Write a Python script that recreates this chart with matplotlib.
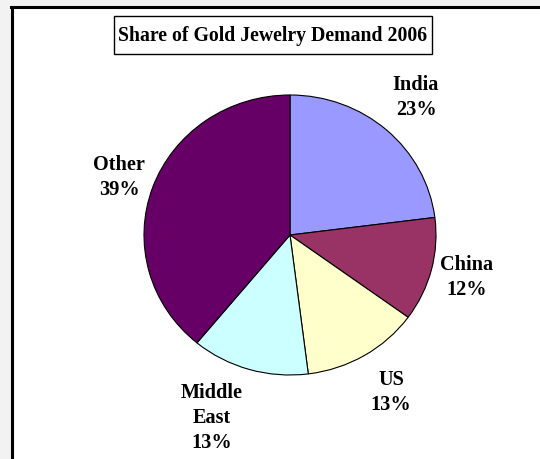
import matplotlib
matplotlib.use("Agg")
import matplotlib.pyplot as plt
from matplotlib.patches import Rectangle
from matplotlib.lines import Line2D

regions = ["India", "China", "US", "Middle\nEast", "Other"]
shares = [23, 12, 13, 13, 39]
colors = ["#9999FF", "#993366", "#FFFFCC", "#CCFFFF", "#660066"]
title = "Share of Gold Jewelry Demand 2006"

W, H = 540, 459
fig = plt.figure(figsize=(W / 100, H / 100), dpi=100)
fig.patch.set_facecolor("white")
plt.rcParams["font.family"] = ["Liberation Serif", "DejaVu Serif"]

def fx(x):
    return x / W

def fy(y):
    return 1 - y / H

# outer grey margin and frame
fig.patches.append(Rectangle((0, 0), fx(11), 1, transform=fig.transFigure,
                             facecolor="#f2f2f2", edgecolor="none", zorder=0))
fig.patches.append(Rectangle((0, fy(6)), 1, 6 / H, transform=fig.transFigure,
                             facecolor="#f2f2f2", edgecolor="none", zorder=0))
fig.lines.append(Line2D([fx(12), fx(12)], [0, fy(7)], transform=fig.transFigure,
                        color="black", lw=2.2))
fig.lines.append(Line2D([fx(11), 1], [fy(7), fy(7)], transform=fig.transFigure,
                        color="black", lw=2.2))

# pie axes (slightly elliptical, as in reference)
left, right, top, bottom = 144, 436, 95, 375
ax = fig.add_axes([fx(left), fy(bottom), (right - left) / W, (bottom - top) / H])
ax.pie(shares, colors=colors, startangle=90, counterclock=False,
       wedgeprops=dict(edgecolor="black", linewidth=0.8))
ax.set_aspect("auto")
ax.set_xlim(-1.0, 1.0)
ax.set_ylim(-1.0, 1.0)
ax.axis("off")

# title box
fig.patches.append(Rectangle((fx(114), fy(54)), (432 - 114) / W, (54 - 16) / H,
                             transform=fig.transFigure, facecolor="white",
                             edgecolor="black", lw=1.0, zorder=2))
fig.text(fx(273), fy(35.5), title, ha="center", va="center", fontsize=14.2,
         fontweight="bold", zorder=3)

# data labels (position: center x, last-line baseline y)
label_pos = [(416, 115), (467, 295), (391, 410), (212, 448), (119, 195)]
for name, val, (x, y) in zip(regions, shares, label_pos):
    fig.text(fx(x), fy(y), f"{name}\n{val}%", ha="center", va="baseline",
             fontsize=14.6, fontweight="bold", linespacing=1.35,
             multialignment="center")

fig.savefig("out.png", dpi=100)
